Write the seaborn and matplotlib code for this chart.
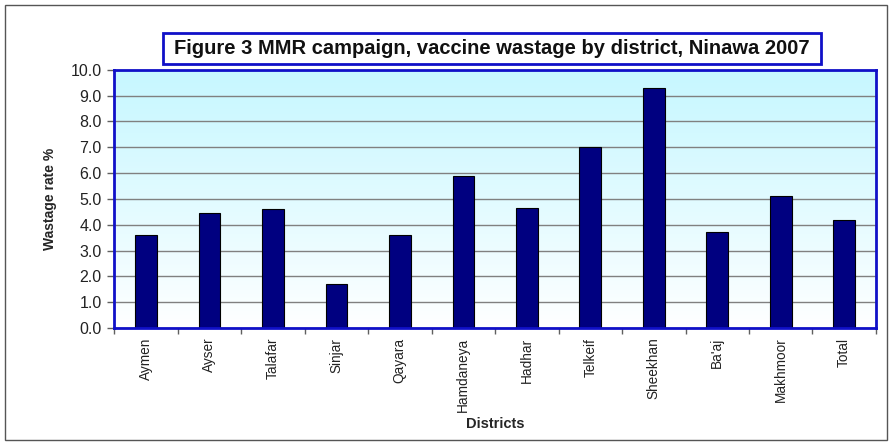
import matplotlib
matplotlib.use("Agg")
import matplotlib.pyplot as plt
from matplotlib.patches import Rectangle
from matplotlib.ticker import FormatStrFormatter, MultipleLocator
import numpy as np
import seaborn as sns

districts = ["Aymen", "Ayser", "Talafar", "Sinjar", "Qayara", "Hamdaneya",
             "Hadhar", "Telkeif", "Sheekhan", "Ba'aj", "Makhmoor", "Total"]
wastage = [3.6, 4.45, 4.6, 1.7, 3.6, 5.9, 4.65, 7.0, 9.3, 3.7, 5.1, 4.2]

title = "Figure 3 MMR campaign, vaccine wastage by district, Ninawa 2007"
y_label = "Wastage rate %"
x_label = "Districts"

sns.set_style("white")
plt.rcParams["font.family"] = ["Liberation Sans", "DejaVu Sans"]

fig = plt.figure(figsize=(8.92, 4.45), dpi=100)
ax = fig.add_axes([0.128, 0.263, 0.854, 0.580])

# soft cyan-to-white plot background
grad = np.linspace(0, 1, 256).reshape(-1, 1)
top = np.array([0.78, 0.97, 1.0])
bottom = np.array([1.0, 1.0, 1.0])
img = top + (bottom - top) * grad[..., None] ** 1.1
img = img.reshape(256, 1, 3)
ax.imshow(img, extent=[0, 1, 0, 1], transform=ax.transAxes,
          aspect="auto", zorder=0, interpolation="bilinear")

sns.barplot(x=districts, y=wastage, color="#000080", saturation=1,
            width=0.34, edgecolor="black", linewidth=0.8, ax=ax, zorder=2)

ax.set_xlim(-0.5, len(districts) - 0.5)
ax.set_ylim(0, 10)
ax.yaxis.set_major_locator(MultipleLocator(1.0))
ax.yaxis.set_major_formatter(FormatStrFormatter("%.1f"))
ax.yaxis.grid(True, color="#808080", linewidth=1.0, zorder=1)
ax.xaxis.grid(False)
ax.set_axisbelow(True)

for s in ax.spines.values():
    s.set_color("#1010c8")
    s.set_linewidth(2.0)
    s.set_visible(True)

ax.tick_params(axis="y", which="major", direction="out", length=5, width=1,
               color="#606060", labelsize=11.5, pad=4, labelcolor="#222222", left=True)
ax.set_xticks(range(len(districts)))
ax.set_xticklabels(districts, rotation=90, fontsize=9.8, color="#222222")
ax.tick_params(axis="x", which="major", length=0, pad=7)
ax.set_xticks(np.arange(-0.5, len(districts), 1.0), minor=True)
ax.tick_params(axis="x", which="minor", direction="out", length=4, width=1,
               color="#606060", bottom=True)

ax.set_ylabel(y_label, fontsize=10, fontweight="bold", labelpad=10)
ax.set_xlabel(x_label, fontsize=10.5, fontweight="bold", labelpad=4)

# boxed chart title
fig.patches.append(Rectangle((0.183, 0.856), 0.737, 0.070, transform=fig.transFigure,
                             fc="white", ec="#1010c8", lw=2))
fig.text(0.551, 0.891, title, ha="center", va="center", fontsize=14.5,
         fontweight="bold", color="#111111")

fig.patches.append(Rectangle((0.006, 0.011), 0.988, 0.978, transform=fig.transFigure,
                             fill=False, ec="#555555", lw=1))

fig.savefig("out.png", dpi=100)
